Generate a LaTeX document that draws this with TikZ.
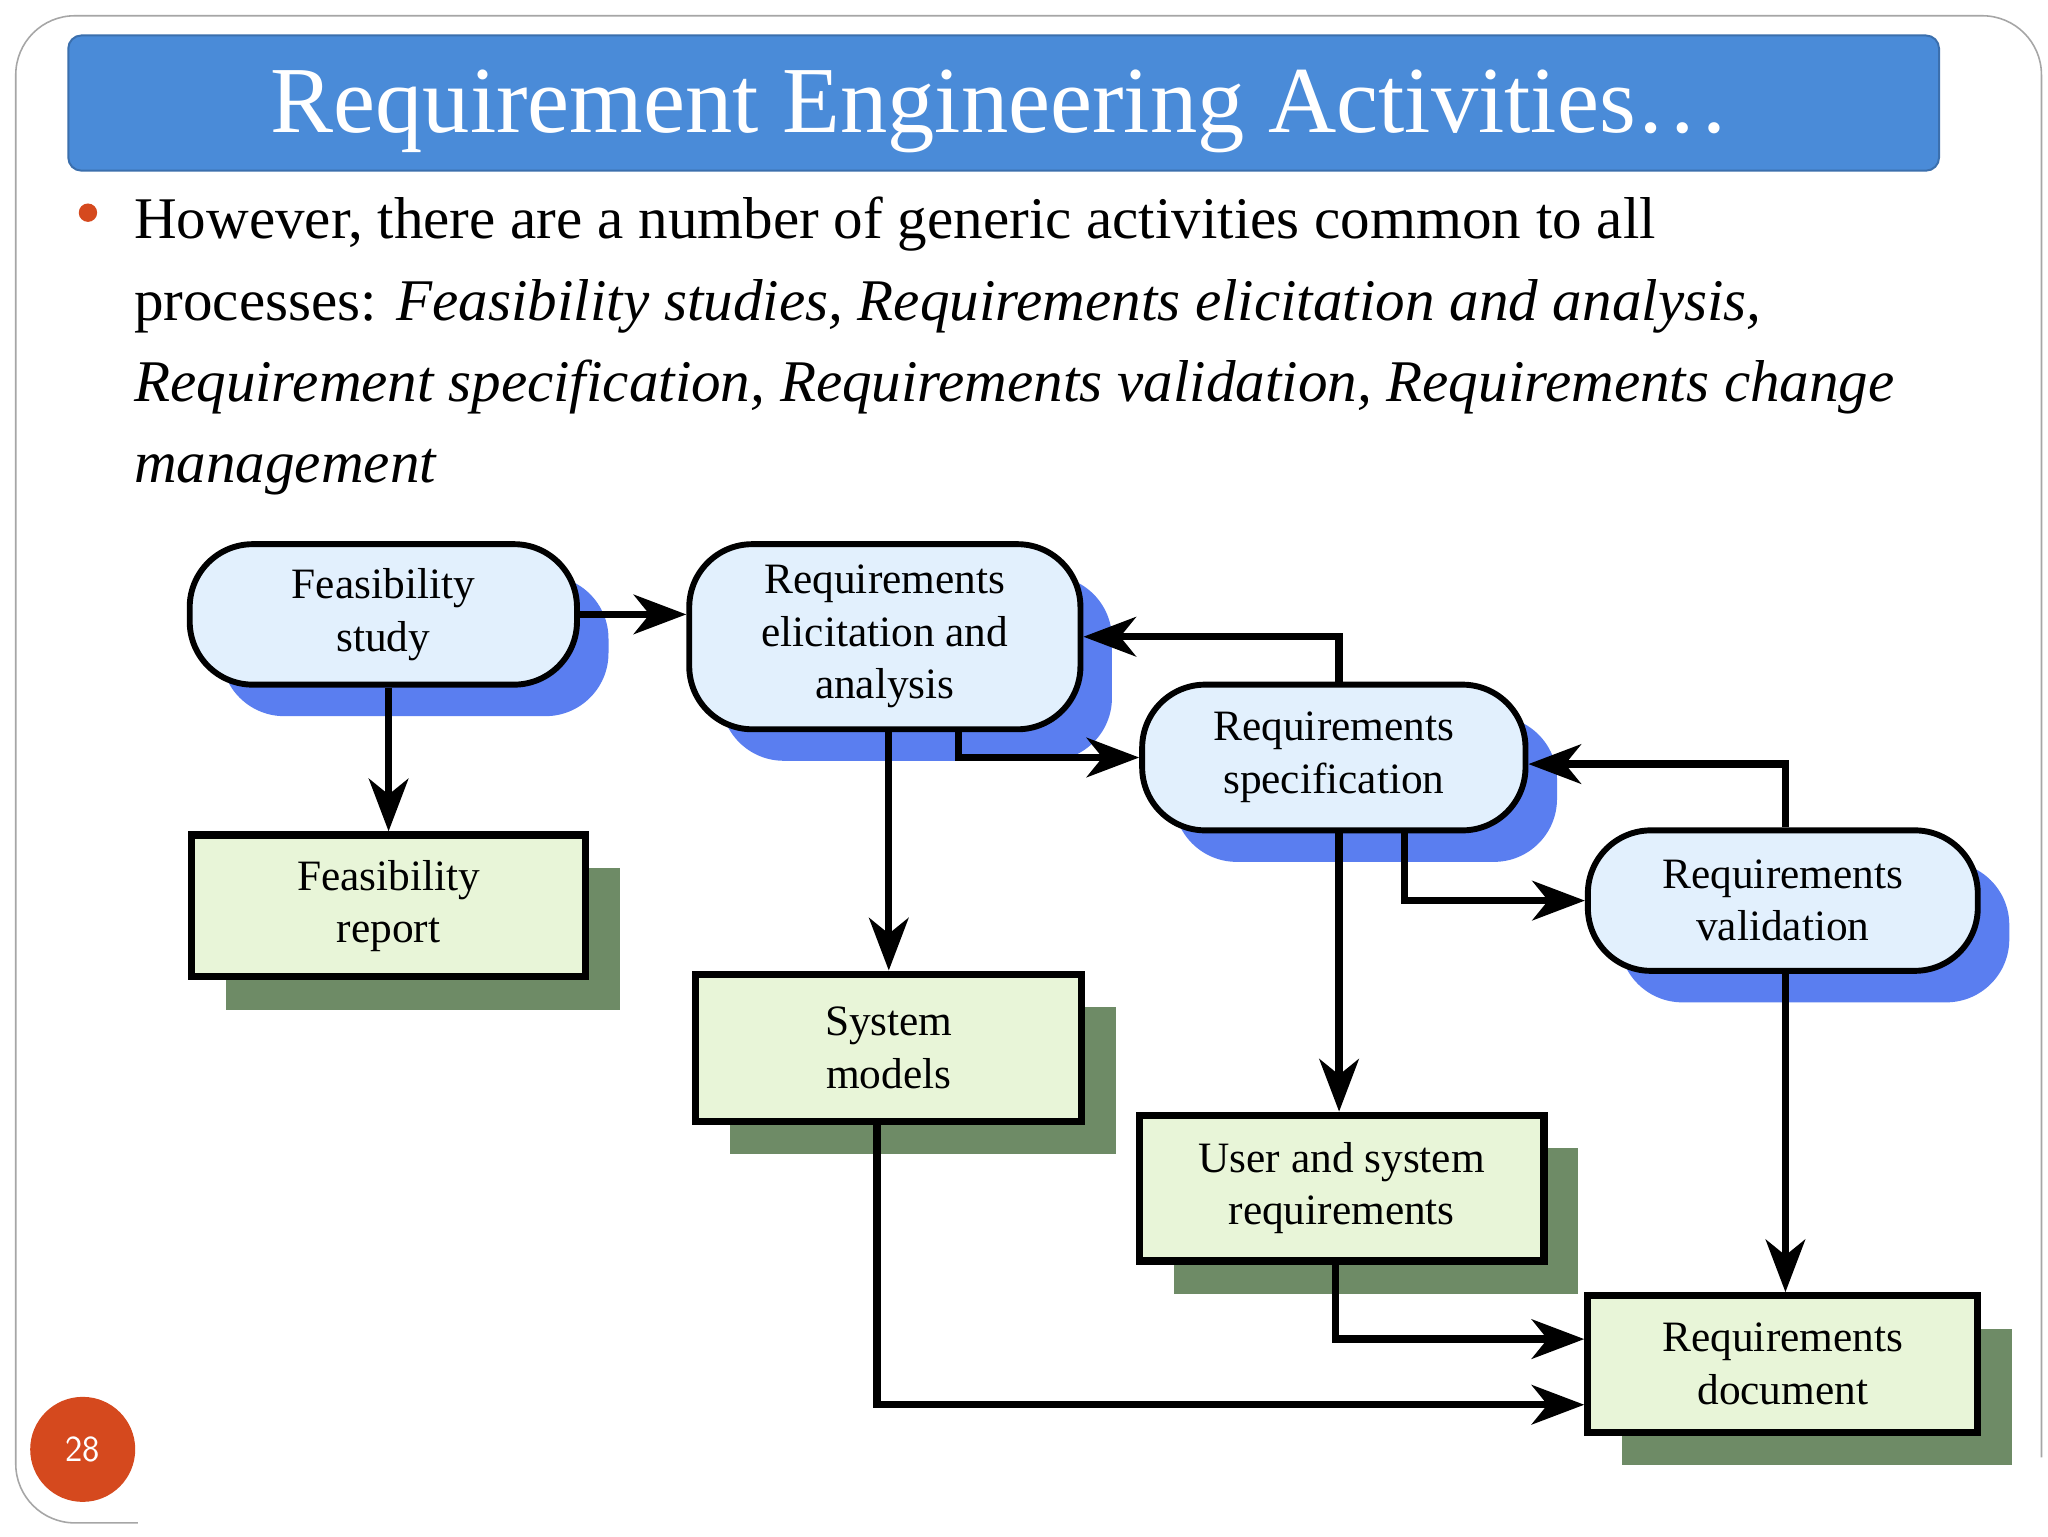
\documentclass[tikz,border=0pt]{standalone}
\usepackage{fontspec}
\setmainfont{Liberation Serif}
\usetikzlibrary{arrows.meta,shadows,positioning}
\definecolor{titleblue}{HTML}{4A8BD8}
\definecolor{pillfill}{HTML}{E2F0FD}
\definecolor{pillshadow}{HTML}{5A7EF0}
\definecolor{docfill}{HTML}{E8F5D8}
\definecolor{docshadow}{HTML}{6E8B66}
\definecolor{numorange}{HTML}{D5491E}
\tikzset{
  pill/.style={draw=black,line width=4.5pt,fill=pillfill,rounded corners=48pt,align=center,
    font=\fontsize{33}{40}\selectfont,
    general shadow={shadow xshift=24pt,shadow yshift=-24pt,fill=pillshadow,rounded corners=48pt}},
  doc/.style={draw=black,line width=5.5pt,fill=docfill,align=center,
    font=\fontsize{33}{40}\selectfont,
    general shadow={shadow xshift=26pt,shadow yshift=-25pt,fill=docshadow}},
  flow/.style={line width=5.5pt,-{Stealth[length=40pt,width=30pt,inset=12pt]}}
}
\begin{document}
\begin{tikzpicture}[x=1pt,y=-1pt]
\useasboundingbox (0,0) rectangle (1560,1170);
\fill[white] (0,0) rectangle (1560,1170);
\draw[gray!70,line width=1.2pt,rounded corners=45pt] (105,1160) -- (12,1160) -- (12,12) -- (1555,12) -- (1555,1110);
\node[draw=titleblue!80!black,line width=1.5pt,fill=titleblue,rounded corners=10pt,minimum width=1425pt,minimum height=103pt] (title) at (764.5,78.5) {};
\node[text=white,font=\fontsize{72}{80}\selectfont] (tt) at (762,85) {Requirement Engineering Activities…};
\fill[numorange] (67,162) circle (7pt);
\node[anchor=north west,align=left,font=\fontsize{45}{62}\selectfont,inner sep=0pt] (body) at (102,150)
 {However, there are a number of generic activities common to all\\
  processes: \textit{Feasibility studies, Requirements elicitation and analysis,}\\
  \textit{Requirement specification, Requirements validation, Requirements change}\\
  \textit{management}};
\node[circle,fill=numorange,minimum size=80pt,text=white,font=\sffamily\fontsize{28}{30}\selectfont] (pg) at (63,1104) {28};

\node[pill,minimum width=295pt,minimum height=107pt] (fs) at (292,468) {Feasibility\\study};
\node[pill,minimum width=298pt,minimum height=141pt] (re) at (674,485) {Requirements\\elicitation and\\analysis};
\node[pill,minimum width=292pt,minimum height=111pt] (rs) at (1016,577) {Requirements\\specification};
\node[pill,minimum width=297pt,minimum height=107pt] (rv) at (1358,686) {Requirements\\validation};
\node[doc,minimum width=300pt,minimum height=108pt] (fr) at (296,690) {Feasibility\\report};
\node[doc,minimum width=294pt,minimum height=112pt] (sm) at (677,798) {System\\models};
\node[doc,minimum width=308pt,minimum height=111pt] (us) at (1022,905) {User and system\\requirements};
\node[doc,minimum width=297pt,minimum height=104pt] (rd) at (1358,1039) {Requirements\\document};

\draw[flow] (fs.east) -- (re.west |- fs.east);
\draw[flow] (fr.north |- fs.south) -- (fr.north);
\draw[flow] (re.south -| sm.north) -- (sm.north);
\draw[flow] ([xshift=56pt]re.south) |- (rs.west);
\draw[flow] ([xshift=4pt]rs.north) |- (re.east);
\draw[flow] ([xshift=4pt]rs.south) -- ([xshift=-2pt]us.north);
\draw[flow] ([xshift=54pt]rs.south) |- (rv.west);
\draw[flow] ([xshift=2pt]rv.north) |- ([yshift=-5pt]rs.east);
\draw[flow] ([xshift=2pt]rv.south) -- ([xshift=2pt]rd.north);
\draw[flow] ([xshift=-5pt]us.south) |- ([yshift=19pt]rd.west);
\draw[flow] ([xshift=-9pt]sm.south) |- ([yshift=-31pt]rd.west);
\end{tikzpicture}
\end{document}
